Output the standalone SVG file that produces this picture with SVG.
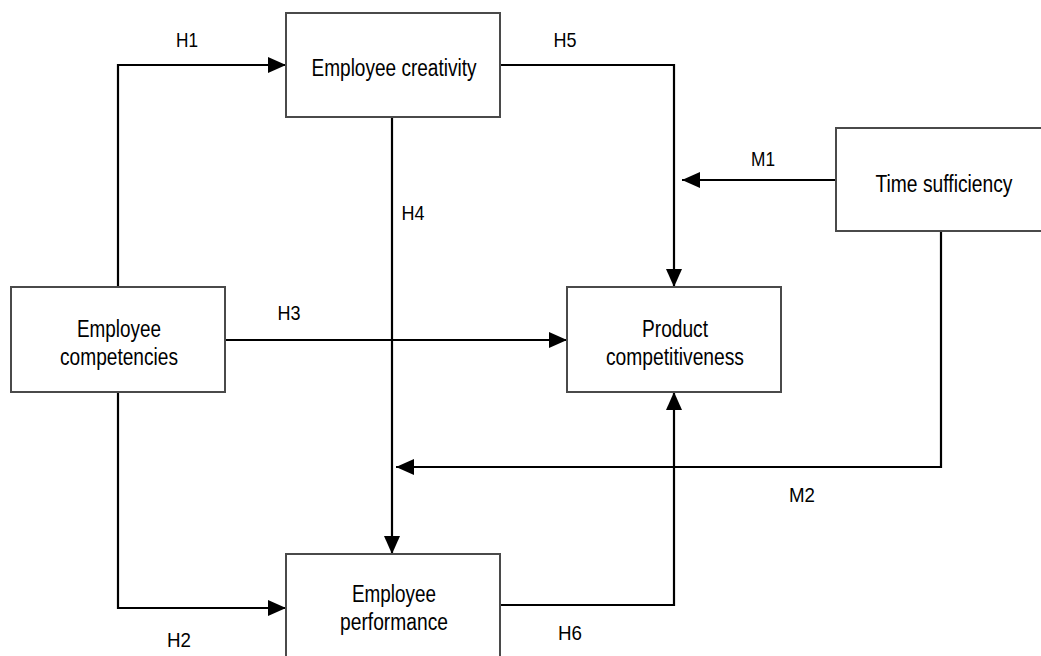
<svg xmlns="http://www.w3.org/2000/svg" width="1041" height="656" viewBox="0 0 1041 656">
<style>
.box{fill:#fff;stroke:#4a4a4a;stroke-width:2}
.ln{fill:none;stroke:#000;stroke-width:2.2}
.nt{font-family:"Liberation Sans",Arial,sans-serif;font-size:23px;fill:#000;text-anchor:middle}
.lb{font-family:"Liberation Sans",Arial,sans-serif;font-size:21px;fill:#000;text-anchor:middle}
</style>
<defs>
<marker id="arr" markerUnits="userSpaceOnUse" markerWidth="18" markerHeight="16" refX="18" refY="8" orient="auto" viewBox="0 0 18 16">
<path d="M0,0 L18,8 L0,16 z" fill="#000"/>
</marker>
</defs>
<rect width="1041" height="656" fill="#fff"/>
<g id="connectors">
<path class="ln" d="M118,287 V65 H286" marker-end="url(#arr)"/>
<path class="ln" d="M500,65 H674 V287" marker-end="url(#arr)"/>
<path class="ln" d="M836,180 H682" marker-end="url(#arr)"/>
<path class="ln" d="M225,340 H567" marker-end="url(#arr)"/>
<path class="ln" d="M392,117 V554" marker-end="url(#arr)"/>
<path class="ln" d="M941,231 V467 H396" marker-end="url(#arr)"/>
<path class="ln" d="M118,392 V608 H286" marker-end="url(#arr)"/>
<path class="ln" d="M500,605 H674 V392" marker-end="url(#arr)"/>
<text class="lb" x="187" y="47" textLength="22" lengthAdjust="spacingAndGlyphs">H1</text>
<text class="lb" x="565" y="47" textLength="23" lengthAdjust="spacingAndGlyphs">H5</text>
<text class="lb" x="763" y="166" textLength="24" lengthAdjust="spacingAndGlyphs">M1</text>
<text class="lb" x="413" y="220" textLength="23" lengthAdjust="spacingAndGlyphs">H4</text>
<text class="lb" x="289" y="320" textLength="23" lengthAdjust="spacingAndGlyphs">H3</text>
<text class="lb" x="802" y="502" textLength="26" lengthAdjust="spacingAndGlyphs">M2</text>
<text class="lb" x="570" y="640" textLength="24" lengthAdjust="spacingAndGlyphs">H6</text>
<text class="lb" x="179" y="647" textLength="24" lengthAdjust="spacingAndGlyphs">H2</text>
</g>
<g id="employee-creativity">
<rect class="box" x="286" y="13" width="214" height="104"/>
<text class="nt" x="394" y="76" textLength="165" lengthAdjust="spacingAndGlyphs">Employee creativity</text>
</g>
<g id="employee-competencies">
<rect class="box" x="11" y="287" width="214" height="105"/>
<text class="nt" x="119" y="337" textLength="84" lengthAdjust="spacingAndGlyphs">Employee</text>
<text class="nt" x="119" y="365" textLength="118" lengthAdjust="spacingAndGlyphs">competencies</text>
</g>
<g id="product-competitiveness">
<rect class="box" x="567" y="287" width="214" height="105"/>
<text class="nt" x="675" y="337" textLength="66" lengthAdjust="spacingAndGlyphs">Product</text>
<text class="nt" x="675" y="365" textLength="138" lengthAdjust="spacingAndGlyphs">competitiveness</text>
</g>
<g id="time-sufficiency">
<rect class="box" x="836" y="128" width="214" height="103"/>
<text class="nt" x="944" y="192" textLength="137" lengthAdjust="spacingAndGlyphs">Time sufficiency</text>
</g>
<g id="employee-performance">
<rect class="box" x="286" y="554" width="214" height="110"/>
<text class="nt" x="394" y="602" textLength="84" lengthAdjust="spacingAndGlyphs">Employee</text>
<text class="nt" x="394" y="630" textLength="108" lengthAdjust="spacingAndGlyphs">performance</text>
</g>
</svg>
